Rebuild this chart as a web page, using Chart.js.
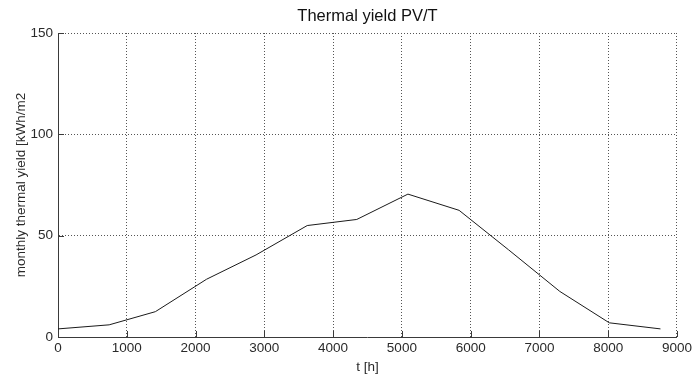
<!DOCTYPE html>
<html>
<head>
<meta charset="utf-8">
<script src="https://cdn.jsdelivr.net/npm/chart.js@4/dist/chart.umd.min.js"></script>
<style>
  html, body { margin: 0; padding: 0; background: #ffffff; }
  #wrap { width: 695px; height: 375px; }
</style>
</head>
<body>
<div id="wrap"><canvas id="c" width="695" height="375"></canvas></div>
<script>
// Data (hours at month ends, monthly thermal yield)
const hours = [0, 744, 1416, 2160, 2880, 3624, 4344, 5088, 5832, 6552, 7296, 8016, 8760];
const thermalYield = [4, 6, 12.5, 28.5, 40.5, 55, 58, 70.5, 62.5, 43, 22.5, 7, 4];
const xTickValues = [0, 1000, 2000, 3000, 4000, 5000, 6000, 7000, 8000, 9000];
const yTickValues = [0, 50, 100, 150];
const chartTitle = 'Thermal yield PV/T';
const xAxisLabel = 't [h]';
const yAxisLabel = 'monthly thermal yield [kWh/m2';

const FONT = '"Liberation Sans", Arial, Helvetica, sans-serif';
const AXIS_COLOR = '#3a3a3a';
const GRID_COLOR = '#555555';
const TEXT_COLOR = '#2a2a2a';

const points = hours.map((h, i) => ({ x: h, y: thermalYield[i] }));

const innerTicks = {
  id: 'innerTicks',
  afterDraw(chart) {
    const { ctx, chartArea, scales } = chart;
    const len = 6;
    ctx.save();
    ctx.strokeStyle = AXIS_COLOR;
    ctx.lineWidth = 1;
    ctx.beginPath();
    xTickValues.forEach(v => {
      const px = Math.round(scales.x.getPixelForValue(v)) + 0.5;
      ctx.moveTo(px, chartArea.bottom);
      ctx.lineTo(px, chartArea.bottom - len);
    });
    yTickValues.forEach(v => {
      const py = Math.round(scales.y.getPixelForValue(v)) + 0.5;
      ctx.moveTo(chartArea.left, py);
      ctx.lineTo(chartArea.left + len, py);
    });
    ctx.stroke();
    // title centred over the plot area
    ctx.fillStyle = '#111111';
    ctx.font = '16.5px ' + FONT;
    ctx.textAlign = 'center';
    ctx.textBaseline = 'alphabetic';
    ctx.fillText(chartTitle, (chartArea.left + chartArea.right) / 2, 21);
    ctx.restore();
  }
};

new Chart(document.getElementById('c'), {
  type: 'line',
  data: {
    datasets: [{
      data: points,
      borderColor: '#1a1a1a',
      borderWidth: 1,
      pointRadius: 0,
      fill: false,
      tension: 0
    }]
  },
  options: {
    responsive: false,
    animation: false,
    events: [],
    layout: { padding: { top: 33, right: 17, left: 0, bottom: 0 } },
    plugins: { legend: { display: false }, tooltip: { enabled: false }, title: { display: false } },
    scales: {
      x: {
        type: 'linear',
        min: 0, max: 9000,
        afterBuildTicks(scale) { scale.ticks = xTickValues.map(v => ({ value: v })); },
        afterFit(scale) { scale.height = 38; },
        ticks: {
          color: TEXT_COLOR,
          font: { family: FONT, size: 13.5 },
          padding: 3,
          maxRotation: 0,
          autoSkip: false,
          callback: (v) => String(v)
        },
        grid: { color: GRID_COLOR, lineWidth: 1, drawTicks: false },
        border: { display: true, color: AXIS_COLOR, width: 1, dash: [1, 2] },
        title: {
          display: true, text: xAxisLabel, color: TEXT_COLOR,
          font: { family: FONT, size: 13.5 }, padding: { top: 0, bottom: 0 }
        }
      },
      y: {
        type: 'linear',
        min: 0, max: 150,
        afterBuildTicks(scale) { scale.ticks = yTickValues.map(v => ({ value: v })); },
        afterFit(scale) { scale.width = 58; },
        ticks: {
          color: TEXT_COLOR,
          font: { family: FONT, size: 13.5 },
          padding: 5,
          callback: (v) => String(v)
        },
        grid: { color: GRID_COLOR, lineWidth: 1, drawTicks: false },
        border: { display: true, color: AXIS_COLOR, width: 1, dash: [1, 2] },
        title: {
          display: true, text: yAxisLabel, color: TEXT_COLOR,
          font: { family: FONT, size: 13.5 }, padding: { top: 13, bottom: 0 }
        }
      }
    }
  },
  plugins: [innerTicks]
});
</script>
</body>
</html>
